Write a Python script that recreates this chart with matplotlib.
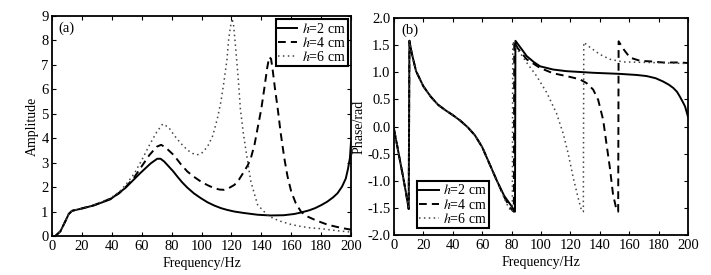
import matplotlib
matplotlib.use("Agg")
import matplotlib.pyplot as plt
from matplotlib.ticker import MultipleLocator, FormatStrFormatter

plt.rcParams['font.family'] = ['Liberation Serif', 'DejaVu Serif']
plt.rcParams['mathtext.fontset'] = 'stix'
plt.rcParams['axes.unicode_minus'] = False
plt.rcParams['font.size'] = 10

# (a) amplitude
f_amp2 = [2.2, 5.6, 8.9, 11.2, 13.4, 19, 28, 39, 49, 59, 66, 70.4, 72.6, 75, 78, 81, 84, 87,
          90.5, 95, 99.5, 104, 108.4, 113, 117, 122, 128.5, 137.5, 146, 155, 162, 166.5, 172,
          176, 180, 184, 188, 191, 194, 196.5, 198, 199.3, 200]
amp2 = [0, 0.19, 0.6, 0.9, 1.03, 1.11, 1.25, 1.5, 1.96, 2.57, 2.97, 3.16, 3.16, 3.05, 2.85,
        2.65, 2.42, 2.2, 1.98, 1.74, 1.55, 1.38, 1.25, 1.14, 1.07, 1.0, 0.94, 0.87, 0.84,
        0.85, 0.9, 0.96, 1.05, 1.14, 1.26, 1.4, 1.58, 1.75, 2.02, 2.35, 2.75, 3.2, 3.85]

f_amp4 = [2.2, 5.6, 8.9, 11.2, 13.4, 19, 28, 39, 45, 50, 55, 60, 65, 70, 73, 76, 81.6, 86,
          90.5, 95, 99.5, 104, 108.4, 112, 115, 118, 122, 125, 128.5, 131, 133, 135.5, 137.5,
          140, 142, 144, 145.3, 146.5, 147.5, 149, 151, 153, 155.4, 157.5, 160, 163, 166.5,
          170, 175.5, 180, 184.5, 190, 193.5, 200]
amp4 = [0, 0.19, 0.6, 0.9, 1.03, 1.11, 1.26, 1.52, 1.75, 2.05, 2.4, 2.85, 3.3, 3.65, 3.73,
        3.62, 3.3, 2.95, 2.64, 2.42, 2.23, 2.08, 1.96, 1.9, 1.89, 1.95, 2.09, 2.3, 2.64, 2.9,
        3.18, 3.75, 4.4, 5.2, 6.03, 6.9, 7.32, 7.25, 6.85, 6.1, 5.2, 4.2, 3.18, 2.45, 1.82,
        1.35, 1.0, 0.82, 0.67, 0.56, 0.46, 0.38, 0.33, 0.26]

f_amp6 = [2.2, 5.6, 8.9, 11.2, 13.4, 19, 28, 39, 45, 50, 55, 60, 65, 70, 74, 78, 81.6, 86,
          90.5, 94, 97, 100, 104, 107.5, 110.6, 113, 115, 117, 118.2, 119.5, 120.5, 121.5,
          122.7, 124.5, 126, 128, 129.5, 131.5, 133, 135.5, 137.5, 141, 144, 148, 153, 160,
          166.5, 173, 180, 190, 200]
amp6 = [0, 0.19, 0.6, 0.9, 1.03, 1.11, 1.27, 1.55, 1.8, 2.15, 2.55, 3.1, 3.7, 4.25, 4.58,
        4.45, 4.13, 3.8, 3.52, 3.38, 3.32, 3.38, 3.65, 4.1, 4.8, 5.5, 6.3, 7.2, 8.07, 8.6,
        8.9, 8.6, 7.8, 6.5, 5.2, 4.2, 3.59, 2.8, 2.23, 1.7, 1.28, 1.05, 0.87, 0.72, 0.6,
        0.47, 0.39, 0.33, 0.3, 0.22, 0.16]

# (b) phase
f_ph2 = [0, 2, 4, 6, 8, 10.0, 10.5, 12, 15, 20, 25, 30, 35, 40, 45, 50, 55, 60, 65, 70, 75,
         80, 82.3, 82.6, 84, 87, 90.2, 95, 99.3, 108.3, 117.3, 135.5, 153.6, 165, 171.8, 178,
         183, 187, 190, 192.5, 194.5, 196.5, 198, 200]
ph2 = [-0.05, -0.33, -0.62, -0.9, -1.2, -1.52, 1.58, 1.36, 1.02, 0.74, 0.55, 0.4, 0.3, 0.21,
       0.11, -0.01, -0.16, -0.38, -0.69, -1.0, -1.28, -1.47, -1.57, 1.58, 1.53, 1.42, 1.3,
       1.19, 1.11, 1.05, 1.02, 0.99, 0.97, 0.95, 0.93, 0.89, 0.83, 0.77, 0.71, 0.64, 0.55,
       0.45, 0.37, 0.18]

f_ph4 = [0, 2, 4, 6, 8, 10.0, 10.5, 12, 15, 20, 25, 30, 35, 40, 45, 50, 55, 60, 65, 70, 75,
         79, 81.5, 81.8, 84, 90.2, 99.3, 108.3, 117.3, 126.4, 131, 135.5, 138.9, 142.3, 144.5,
         146.8, 149, 151.3, 152.5, 152.8, 156, 160.5, 167.5, 174.5, 183, 190, 195, 200]
ph4 = [-0.05, -0.33, -0.62, -0.9, -1.2, -1.52, 1.58, 1.36, 1.02, 0.74, 0.55, 0.4, 0.3, 0.21,
       0.11, -0.01, -0.16, -0.38, -0.69, -1.0, -1.3, -1.5, -1.57, 1.57, 1.45, 1.24, 1.08,
       0.98, 0.93, 0.87, 0.8, 0.68, 0.49, 0.12, -0.31, -0.75, -1.25, -1.53, -1.57, 1.57,
       1.43, 1.27, 1.21, 1.2, 1.18, 1.18, 1.18, 1.17]

f_ph6 = [0, 2, 4, 6, 8, 10.0, 10.5, 12, 15, 20, 25, 30, 35, 40, 45, 50, 55, 60, 65, 70, 75,
         78, 80.5, 80.8, 83, 85.7, 90.2, 97, 104, 110.6, 115.1, 118.5, 121.9, 125.3, 127.6,
         128.8, 129.1, 133.3, 140, 146.8, 156, 174, 200]
ph6 = [-0.05, -0.33, -0.62, -0.9, -1.2, -1.52, 1.58, 1.36, 1.02, 0.74, 0.55, 0.4, 0.3, 0.21,
       0.11, -0.01, -0.16, -0.38, -0.69, -1.0, -1.32, -1.5, -1.57, 1.57, 1.45, 1.36, 1.18,
       0.93, 0.62, 0.24, -0.13, -0.5, -0.94, -1.32, -1.55, -1.57, 1.55, 1.46, 1.33, 1.24,
       1.19, 1.18, 1.16]

labels = ['$h$=2 cm', '$h$=4 cm', '$h$=6 cm']

fig = plt.figure(figsize=(7.11, 2.75), dpi=100)
ax1 = fig.add_axes([52 / 711, 39 / 275, 299 / 711, 220 / 275])
ax2 = fig.add_axes([394 / 711, 40 / 275, 294 / 711, 217 / 275])

solid = dict(color='black', linewidth=1.4, linestyle='-')
dashed = dict(color='black', linewidth=1.4, linestyle=(0, (4, 2.6)))
dotted = dict(color='#444444', linewidth=1.1, linestyle=(0, (1, 2.2)))

ax1.plot(f_amp2, amp2, label=labels[0], **solid)
ax1.plot(f_amp4, amp4, label=labels[1], **dashed)
ax1.plot(f_amp6, amp6, label=labels[2], **dotted)
ax1.set_xlim(0, 200)
ax1.set_ylim(0, 9)
ax1.xaxis.set_major_locator(MultipleLocator(20))
ax1.yaxis.set_major_locator(MultipleLocator(1))
ax1.set_xlabel('Frequency/Hz', labelpad=3)
ax1.set_ylabel('Amplitude', labelpad=2)
ax1.text(0.02, 0.975, '(a)', transform=ax1.transAxes, va='top', ha='left', fontsize=10.5)
leg1 = ax1.legend(loc='upper right', borderaxespad=0.25, handlelength=1.4,
                  handletextpad=0.3, labelspacing=0.02, borderpad=0.15, fontsize=10,
                  fancybox=False, framealpha=1, edgecolor='black')
leg1.get_frame().set_linewidth(1.5)

ax2.plot(f_ph2, ph2, label=labels[0], **solid)
ax2.plot(f_ph4, ph4, label=labels[1], **dashed)
ax2.plot(f_ph6, ph6, label=labels[2], **dotted)
ax2.set_xlim(0, 200)
ax2.set_ylim(-2, 2)
ax2.xaxis.set_major_locator(MultipleLocator(20))
ax2.yaxis.set_major_locator(MultipleLocator(0.5))
ax2.yaxis.set_major_formatter(FormatStrFormatter('%.1f'))
ax2.set_xlabel('Frequency/Hz', labelpad=3)
ax2.set_ylabel('Phase/rad', labelpad=1)
ax2.text(0.025, 0.975, '(b)', transform=ax2.transAxes, va='top', ha='left', fontsize=10.5)
leg2 = ax2.legend(loc='lower left', bbox_to_anchor=(23 / 294, 7 / 217), borderaxespad=0,
                  handlelength=1.4, handletextpad=0.3, labelspacing=0.02, borderpad=0.15,
                  fontsize=10, fancybox=False, framealpha=1, edgecolor='black')
leg2.get_frame().set_linewidth(1.5)

for ax in (ax1, ax2):
    ax.tick_params(direction='in', top=True, right=True, length=3, width=0.8, labelsize=10.5)
    ax.tick_params(axis='x', pad=3)
    ax.tick_params(axis='y', pad=2.5)
    for s in ax.spines.values():
        s.set_linewidth(1.3)

plt.savefig("out.png", dpi=100)
